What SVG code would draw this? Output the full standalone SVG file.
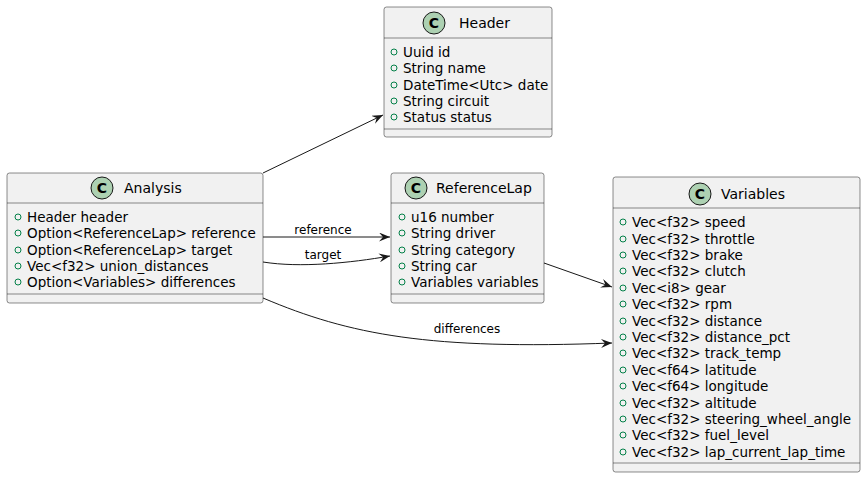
<svg xmlns="http://www.w3.org/2000/svg" width="866" height="478" viewBox="0 0 866 478">
<defs>
<style>
.box{fill:#F1F1F1;stroke:#181818;stroke-width:0.5}
.sep{stroke:#181818;stroke-width:0.5}
.ci{fill:#ADD1B2;stroke:#181818;stroke-width:1}
.cl{font-family:"DejaVu Sans",sans-serif;font-size:14px;font-weight:bold;fill:#000;text-anchor:middle}
.t{font-family:"DejaVu Sans",sans-serif;font-size:13.5px;fill:#000}
.tt{font-family:"DejaVu Sans",sans-serif;font-size:14px;fill:#000}
.b{fill:none;stroke:#038048;stroke-width:1}
.lbl{font-family:"DejaVu Sans",sans-serif;font-size:12px;fill:#000;text-anchor:middle}
.e{fill:none;stroke:#181818;stroke-width:1}
</style>
<marker id="ah" viewBox="0 0 11 9" refX="11" refY="4.5" markerWidth="11" markerHeight="9" markerUnits="userSpaceOnUse" orient="auto">
<path d="M0,0 L11,4.5 L0,9 L4,4.5 Z" fill="#181818"/>
</marker>
</defs>
<rect width="866" height="478" fill="#FFFFFF"/>

<g id="Header">
<rect class="box" x="384" y="7" width="168" height="130" rx="2.5"/>
<line class="sep" x1="384" y1="38" x2="552" y2="38"/>
<line class="sep" x1="384" y1="129" x2="552" y2="129"/>
<circle class="ci" cx="434" cy="23" r="11"/>
<text class="cl" x="434" y="28">C</text>
<text class="tt" x="459" y="28">Header</text>
<circle class="b" cx="394" cy="52" r="3"/><text class="t" x="403" y="57">Uuid id</text>
<circle class="b" cx="394" cy="68" r="3"/><text class="t" x="403" y="73">String name</text>
<circle class="b" cx="394" cy="85" r="3"/><text class="t" x="403" y="90">DateTime&lt;Utc&gt; date</text>
<circle class="b" cx="394" cy="101" r="3"/><text class="t" x="403" y="106">String circuit</text>
<circle class="b" cx="394" cy="117" r="3"/><text class="t" x="403" y="122">Status status</text>
</g>

<g id="Analysis">
<rect class="box" x="7" y="173" width="256" height="130" rx="2.5"/>
<line class="sep" x1="7" y1="203" x2="263" y2="203"/>
<line class="sep" x1="7" y1="294" x2="263" y2="294"/>
<circle class="ci" cx="102" cy="188" r="11"/>
<text class="cl" x="102" y="193">C</text>
<text class="tt" x="124" y="193">Analysis</text>
<circle class="b" cx="18" cy="217" r="3"/><text class="t" x="27" y="222">Header header</text>
<circle class="b" cx="18" cy="233" r="3"/><text class="t" x="27" y="238">Option&lt;ReferenceLap&gt; reference</text>
<circle class="b" cx="18" cy="250" r="3"/><text class="t" x="27" y="255">Option&lt;ReferenceLap&gt; target</text>
<circle class="b" cx="18" cy="266" r="3"/><text class="t" x="27" y="271">Vec&lt;f32&gt; union_distances</text>
<circle class="b" cx="18" cy="282" r="3"/><text class="t" x="27" y="287">Option&lt;Variables&gt; differences</text>
</g>

<g id="ReferenceLap">
<rect class="box" x="391" y="173" width="153" height="130" rx="2.5"/>
<line class="sep" x1="391" y1="203" x2="544" y2="203"/>
<line class="sep" x1="391" y1="294" x2="544" y2="294"/>
<circle class="ci" cx="416" cy="188" r="11"/>
<text class="cl" x="416" y="193">C</text>
<text class="tt" x="436" y="193">ReferenceLap</text>
<circle class="b" cx="402" cy="217" r="3"/><text class="t" x="411" y="222">u16 number</text>
<circle class="b" cx="402" cy="233" r="3"/><text class="t" x="411" y="238">String driver</text>
<circle class="b" cx="402" cy="250" r="3"/><text class="t" x="411" y="255">String category</text>
<circle class="b" cx="402" cy="266" r="3"/><text class="t" x="411" y="271">String car</text>
<circle class="b" cx="402" cy="282" r="3"/><text class="t" x="411" y="287">Variables variables</text>
</g>

<g id="Variables">
<rect class="box" x="613" y="177" width="247" height="295" rx="2.5"/>
<line class="sep" x1="613" y1="208" x2="860" y2="208"/>
<line class="sep" x1="613" y1="463" x2="860" y2="463"/>
<circle class="ci" cx="700" cy="194" r="11"/>
<text class="cl" x="700" y="199">C</text>
<text class="tt" x="721" y="199">Variables</text>
<circle class="b" cx="623" cy="222" r="3"/><text class="t" x="632" y="227">Vec&lt;f32&gt; speed</text>
<circle class="b" cx="623" cy="239" r="3"/><text class="t" x="632" y="244">Vec&lt;f32&gt; throttle</text>
<circle class="b" cx="623" cy="255" r="3"/><text class="t" x="632" y="260">Vec&lt;f32&gt; brake</text>
<circle class="b" cx="623" cy="271" r="3"/><text class="t" x="632" y="276">Vec&lt;f32&gt; clutch</text>
<circle class="b" cx="623" cy="288" r="3"/><text class="t" x="632" y="293">Vec&lt;i8&gt; gear</text>
<circle class="b" cx="623" cy="304" r="3"/><text class="t" x="632" y="309">Vec&lt;f32&gt; rpm</text>
<circle class="b" cx="623" cy="321" r="3"/><text class="t" x="632" y="326">Vec&lt;f32&gt; distance</text>
<circle class="b" cx="623" cy="337" r="3"/><text class="t" x="632" y="342">Vec&lt;f32&gt; distance_pct</text>
<circle class="b" cx="623" cy="353" r="3"/><text class="t" x="632" y="358">Vec&lt;f32&gt; track_temp</text>
<circle class="b" cx="623" cy="370" r="3"/><text class="t" x="632" y="375">Vec&lt;f64&gt; latitude</text>
<circle class="b" cx="623" cy="386" r="3"/><text class="t" x="632" y="391">Vec&lt;f64&gt; longitude</text>
<circle class="b" cx="623" cy="403" r="3"/><text class="t" x="632" y="408">Vec&lt;f32&gt; altitude</text>
<circle class="b" cx="623" cy="419" r="3"/><text class="t" x="632" y="424">Vec&lt;f32&gt; steering_wheel_angle</text>
<circle class="b" cx="623" cy="435" r="3"/><text class="t" x="632" y="440">Vec&lt;f32&gt; fuel_level</text>
<circle class="b" cx="623" cy="452" r="3"/><text class="t" x="632" y="457">Vec&lt;f32&gt; lap_current_lap_time</text>
</g>

<g id="connectors">
<path class="e" d="M263,173 L383,115" marker-end="url(#ah)"/>
<path class="e" d="M263,237 L390,237" marker-end="url(#ah)"/>
<text class="lbl" x="323" y="234">reference</text>
<path class="e" d="M263,262 C300,268 350,263 390,256" marker-end="url(#ah)"/>
<text class="lbl" x="323" y="259">target</text>
<path class="e" d="M544,263 L612,287" marker-end="url(#ah)"/>
<path class="e" d="M263,298 C350,335 430,350 612,343" marker-end="url(#ah)"/>
<text class="lbl" x="467" y="333">differences</text>
</g>
</svg>
